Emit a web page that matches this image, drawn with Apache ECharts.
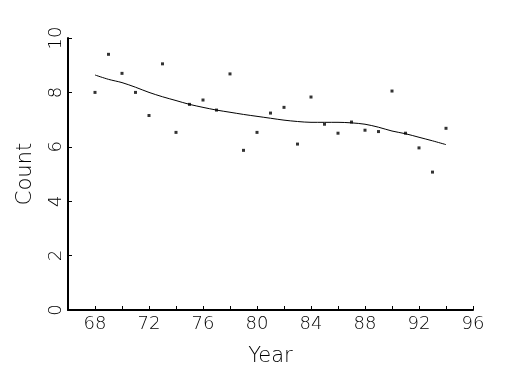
<!DOCTYPE html>
<html>
<head>
<meta charset="utf-8">
<script src="https://cdn.jsdelivr.net/npm/echarts@6/dist/echarts.min.js"></script>
<style>html,body{margin:0;padding:0;background:#fff;}#c{width:525px;height:375px;}</style>
</head>
<body>
<div id="c"></div>
<script>
var years = [68,69,70,71,72,73,74,75,76,77,78,79,80,81,82,83,84,85,86,87,88,89,90,91,92,93,94];
var counts = [8.0,9.4,8.7,8.0,7.15,9.05,6.53,7.56,7.72,7.35,8.68,5.87,6.53,7.24,7.45,6.10,7.83,6.83,6.50,6.91,6.61,6.56,8.05,6.50,5.96,5.07,6.68];
var smooth = [8.64,8.48,8.36,8.19,8.00,7.84,7.70,7.56,7.45,7.35,7.27,7.19,7.12,7.05,6.98,6.93,6.90,6.90,6.90,6.88,6.83,6.72,6.58,6.48,6.35,6.22,6.08];
var xTickLabels = [68,72,76,80,84,88,92,96];
var yTickLabels = [0,2,4,6,8,10];

var font = 'DejaVu Sans';
var chart = echarts.init(document.getElementById('c'));
chart.setOption({
  animation: false,
  backgroundColor: '#fff',
  grid: {left: 68, right: 52, top: 38, bottom: 65},
  xAxis: {
    type: 'value', min: 66, max: 96, interval: 2,
    name: 'Year', nameLocation: 'middle', nameGap: 36,
    nameTextStyle: {fontFamily: font, fontSize: 21, fontWeight: 200, color: '#000'},
    axisLine: {lineStyle: {color: '#000', width: 2}},
    axisTick: {inside: true, length: 4, lineStyle: {color: '#000', width: 1}},
    axisLabel: {
      fontFamily: font, fontSize: 18, fontWeight: 200, color: '#000', margin: 5,
      formatter: function (v) { return xTickLabels.indexOf(v) >= 0 ? String(v) : ''; }
    },
    splitLine: {show: false}
  },
  yAxis: {
    type: 'value', min: 0, max: 10, interval: 2,
    name: 'Count', nameLocation: 'middle', nameGap: 32, nameRotate: 90,
    nameTextStyle: {fontFamily: font, fontSize: 21, fontWeight: 200, color: '#000'},
    axisLine: {show: true, lineStyle: {color: '#000', width: 2}},
    axisTick: {show: true, inside: true, length: 4, lineStyle: {color: '#000', width: 1}},
    axisLabel: {
      fontFamily: font, fontSize: 18, fontWeight: 200, color: '#000', rotate: 90, margin: 3,
      formatter: function (v) { return yTickLabels.indexOf(v) >= 0 ? String(v) : ''; }
    },
    splitLine: {show: false}
  },
  series: [
    {
      type: 'scatter', symbol: 'rect', symbolSize: 3,
      itemStyle: {color: '#000'},
      data: years.map(function (y, i) { return [y, counts[i]]; })
    },
    {
      type: 'line', showSymbol: false, smooth: 0.3,
      lineStyle: {color: '#000', width: 1},
      data: years.map(function (y, i) { return [y, smooth[i]]; })
    }
  ]
});
</script>
</body>
</html>
